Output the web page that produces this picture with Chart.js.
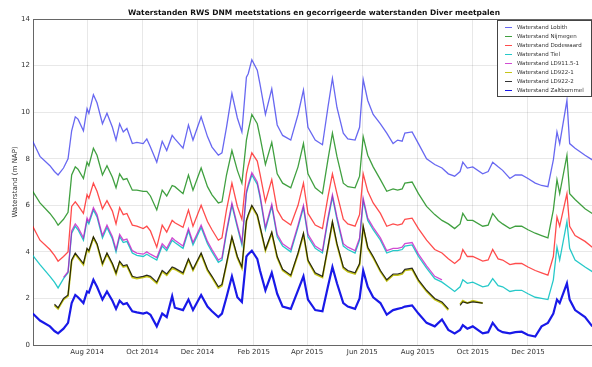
<!DOCTYPE html>
<html>
<head>
<meta charset="UTF-8">
<title>Waterstanden</title>
<script src="https://cdn.jsdelivr.net/npm/chart.js@4.4.1/dist/chart.umd.min.js"></script>
<style>
  html, body { margin: 0; padding: 0; background: #fff; overflow: hidden; }
  #wrap { width: 595px; height: 367px; }
</style>
</head>
<body>
<div id="wrap"><canvas id="myChart"></canvas></div>
<script>
// days since 1 June 2014
var days = [1,9,20,25,29,35,40,44,48,51,
  57,61,63,68,72,78,83,89,93,97,
  101,105,111,116,123,127,131,138,144,149,
  155,158,167,173,178,187,194,199,206,210,
  215,221,227,232,237,239,243,249,252,258,
  265,271,277,286,294,300,305,313,321,327,
  332,337,344,349,357,362,366,371,377,385,
  392,399,404,409,412,420,427,436,445,453,
  460,467,473,476,481,487,498,504,509,515,
  520,528,534,541,548,556,563,570,576,580,
  583,591,594,600,611,619];

var lobith = [8.75,8.1,7.7,7.45,7.3,7.6,8.0,9.2,9.8,9.7,
  9.2,10.15,9.95,10.75,10.4,9.5,9.95,9.35,8.8,9.5,
  9.15,9.3,8.65,8.7,8.65,8.85,8.5,7.85,8.75,8.35,
  9.0,8.85,8.45,9.45,8.8,9.8,8.95,8.5,8.15,8.25,
  9.35,10.8,9.75,9.15,11.5,11.65,12.25,11.8,11.2,9.9,
  11.0,9.45,9.0,8.8,9.9,10.95,9.35,8.8,8.6,10.2,
  11.45,10.2,9.1,8.85,8.8,9.35,11.4,10.5,9.9,9.5,
  9.1,8.65,8.8,8.75,9.1,9.15,8.65,8.0,7.75,7.6,
  7.35,7.25,7.45,7.85,7.6,7.65,7.35,7.45,7.85,7.65,
  7.5,7.15,7.3,7.3,7.15,6.95,6.85,6.8,7.95,9.15,
  8.65,10.5,8.65,8.45,8.15,7.95];

var nijmegen = [6.6,6.1,5.65,5.4,5.15,5.4,5.7,7.3,7.65,7.55,
  7.15,7.85,7.7,8.45,8.15,7.3,7.7,7.2,6.75,7.35,
  7.1,7.15,6.65,6.65,6.6,6.6,6.4,5.8,6.65,6.4,
  6.85,6.8,6.5,7.3,6.65,7.6,6.8,6.45,6.1,6.15,
  7.3,8.35,7.5,6.95,8.8,9.2,9.9,9.5,8.95,7.75,
  8.7,7.35,6.95,6.75,7.65,8.65,7.35,6.75,6.5,7.95,
  9.1,8.1,6.95,6.8,6.75,7.25,8.95,8.15,7.65,7.1,
  6.6,6.7,6.65,6.7,6.95,7.0,6.5,5.95,5.6,5.35,
  5.2,5.0,5.2,5.65,5.35,5.35,5.1,5.15,5.65,5.35,
  5.2,5.0,5.1,5.1,4.95,4.8,4.7,4.6,5.8,7.1,
  6.5,8.15,6.5,6.25,5.85,5.65];

var dodewaard = [5.1,4.5,4.1,3.85,3.6,3.8,4.0,5.95,6.15,6.0,
  5.65,6.45,6.3,6.95,6.6,5.85,6.2,5.75,5.2,5.9,
  5.6,5.65,5.15,5.1,5.0,5.1,4.9,4.2,5.15,4.85,
  5.35,5.25,5.05,5.8,5.1,6.0,5.3,4.95,4.5,4.6,
  5.8,6.95,5.95,5.4,7.35,7.7,8.25,7.9,7.35,6.15,
  7.1,5.8,5.4,5.15,6.0,6.95,5.65,5.15,5.0,6.35,
  7.35,6.5,5.4,5.2,5.1,5.6,7.35,6.6,6.1,5.65,
  5.1,5.2,5.15,5.2,5.4,5.45,5.0,4.5,4.1,3.95,
  3.7,3.5,3.7,4.1,3.8,3.8,3.6,3.65,4.1,3.7,
  3.65,3.45,3.5,3.5,3.35,3.2,3.1,3.0,3.8,5.5,
  5.1,6.5,5.1,4.7,4.45,4.2];

var tiel = [3.85,3.45,2.95,2.7,2.45,2.85,3.1,4.8,5.1,4.95,
  4.5,5.35,5.2,5.8,5.5,4.6,5.05,4.55,4.0,4.65,
  4.4,4.45,3.95,3.85,3.8,3.9,3.8,3.65,4.25,4.05,
  4.5,4.4,4.15,4.9,4.3,5.05,4.35,4.0,3.55,3.65,
  4.8,6.0,5.05,4.3,6.5,6.8,7.3,6.9,6.35,4.95,
  5.95,4.65,4.25,4.0,5.05,5.9,4.65,4.15,3.95,5.35,
  6.35,5.4,4.25,4.1,3.95,4.5,6.2,5.35,4.95,4.5,
  3.95,4.05,4.05,4.1,4.25,4.3,3.8,3.3,2.85,2.7,
  2.5,2.3,2.5,2.8,2.65,2.7,2.5,2.55,2.85,2.55,
  2.5,2.3,2.35,2.35,2.2,2.05,2.0,1.95,2.8,4.2,
  3.65,5.3,4.15,3.65,3.35,3.15];

var ld911 = [null,null,null,null,null,2.9,3.15,4.9,5.2,5.05,
  4.6,5.45,5.3,5.9,5.6,4.7,5.15,4.65,4.1,4.75,
  4.5,4.55,4.05,3.95,3.9,4.0,3.9,3.75,4.35,4.15,
  4.6,4.5,4.25,5.0,4.4,5.15,4.45,4.1,3.65,3.75,
  4.9,6.1,5.15,4.4,6.6,6.9,7.4,7.0,6.45,5.05,
  6.05,4.75,4.35,4.1,5.15,6.0,4.75,4.25,4.05,5.45,
  6.45,5.5,4.35,4.2,4.05,4.6,6.3,5.45,5.05,4.6,
  4.05,4.15,4.15,4.2,4.35,4.4,3.9,3.4,2.95,2.8,
  null,null,null,null,null,null,null,null,null,null,
  null,null,null,null,null,null,null,null,null,null,
  null,null,null,null,null,null];

var ld922a = [null,null,null,1.7,1.55,1.95,2.1,3.6,3.9,3.75,
  3.45,4.1,4.0,4.6,4.3,3.45,3.9,3.45,3.05,3.55,
  3.35,3.4,2.9,2.85,2.9,2.95,2.9,2.65,3.15,3.0,
  3.3,3.25,3.05,3.65,3.2,3.9,3.2,2.9,2.45,2.55,
  3.45,4.6,3.75,3.3,5.3,5.55,5.95,5.55,5.05,4.05,
  4.8,3.75,3.2,2.95,3.9,4.75,3.6,3.05,2.9,4.15,
  5.25,4.3,3.3,3.15,3.05,3.45,5.05,4.15,3.75,3.15,
  2.75,3.0,3.0,3.05,3.2,3.25,2.75,2.3,1.95,1.8,
  1.5,null,1.75,1.9,1.8,1.9,1.8,null,null,null,
  null,null,null,null,null,null,null,null,null,null,
  null,null,null,null,null,null];

var ld922b = [null,null,null,1.75,1.6,2.0,2.15,3.65,3.95,3.8,
  3.5,4.15,4.05,4.65,4.35,3.5,3.95,3.5,3.1,3.6,
  3.4,3.45,2.95,2.9,2.95,3.0,2.95,2.7,3.2,3.05,
  3.35,3.3,3.1,3.7,3.25,3.95,3.25,2.95,2.5,2.6,
  3.5,4.65,3.8,3.35,5.35,5.6,6.0,5.6,5.1,4.1,
  4.85,3.8,3.25,3.0,3.95,4.8,3.65,3.1,2.95,4.2,
  5.3,4.35,3.35,3.2,3.1,3.5,5.1,4.2,3.8,3.2,
  2.8,3.05,3.05,3.1,3.25,3.3,2.8,2.35,2.0,1.85,
  1.55,null,1.7,1.85,1.8,1.85,1.8,null,null,null,
  null,null,null,null,null,null,null,null,null,null,
  null,null,null,null,null,null];

var zaltbommel = [1.35,1.05,0.8,0.6,0.5,0.7,0.95,1.8,2.15,2.05,
  1.8,2.3,2.25,2.8,2.5,1.95,2.3,1.9,1.55,1.9,
  1.75,1.8,1.45,1.4,1.35,1.4,1.3,0.8,1.35,1.2,
  2.1,1.6,1.5,1.95,1.5,2.15,1.65,1.45,1.2,1.35,
  2.05,2.95,2.05,1.85,3.8,3.9,4.05,3.7,3.2,2.35,
  3.1,2.2,1.65,1.55,2.35,2.95,1.95,1.5,1.45,2.5,
  3.35,2.65,1.8,1.65,1.55,2.0,3.2,2.5,2.05,1.8,
  1.3,1.5,1.55,1.6,1.65,1.7,1.35,0.95,0.8,1.1,
  0.65,0.5,0.65,0.85,0.7,0.8,0.5,0.55,0.95,0.65,
  0.55,0.5,0.55,0.57,0.43,0.36,0.8,0.95,1.35,1.95,
  1.8,2.65,1.95,1.5,1.2,0.8];

var tickDays = [61, 122, 183, 245, 304, 365, 426, 487, 548];
var tickLabels = ['Aug 2014', 'Oct 2014', 'Dec 2014', 'Feb 2015', 'Apr 2015', 'Jun 2015', 'Aug 2015', 'Oct 2015', 'Dec 2015'];

var seriesNames = ['Waterstand Lobith', 'Waterstand Nijmegen', 'Waterstand Dodewaard', 'Waterstand Tiel',
  'Waterstand LD911.5-1', 'Waterstand LD922-1', 'Waterstand LD922-2', 'Waterstand Zaltbommel'];
var seriesValues = [lobith, nijmegen, dodewaard, tiel, ld911, ld922a, ld922b, zaltbommel];
var seriesColors = ['rgba(40,40,235,0.7)', 'rgba(0,128,0,0.75)', 'rgba(255,0,0,0.7)', 'rgba(0,191,191,0.85)',
  'rgba(191,0,191,0.7)', 'rgba(191,191,0,0.9)', 'rgba(0,0,0,0.8)', 'rgba(0,0,230,0.9)'];
var seriesWidths = [1.3, 1.3, 1.3, 1.3, 1.3, 1.8, 1.2, 2.2];

function toPoints(vals) {
  return days.map(function (d, i) { return { x: d, y: vals[i] }; });
}

var datasets = seriesValues.map(function (vals, i) {
  return {
    label: seriesNames[i],
    data: toPoints(vals),
    borderColor: seriesColors[i],
    backgroundColor: seriesColors[i],
    borderWidth: seriesWidths[i],
    pointRadius: 0,
    fill: false,
    spanGaps: false,
    order: -i
  };
});

var font = 'DejaVu Sans';

// top/right frame and the legend box
var frameAndLegend = {
  id: 'frameAndLegend',
  afterDraw: function (chart) {
    var ctx = chart.ctx, a = chart.chartArea;
    ctx.save();
    ctx.strokeStyle = '#666';
    ctx.lineWidth = 1;
    ctx.beginPath();
    ctx.moveTo(a.left, Math.round(a.top) + 0.5);
    ctx.lineTo(a.right, Math.round(a.top) + 0.5);
    ctx.lineTo(a.right, a.bottom);
    ctx.stroke();

    var x0 = Math.round(a.right) - 98, y0 = Math.round(a.top) + 1, w = 94, h = 76;
    ctx.fillStyle = '#fff';
    ctx.fillRect(x0, y0, w, h);
    ctx.strokeStyle = '#444';
    ctx.strokeRect(x0 + 0.5, y0 + 0.5, w, h);
    ctx.font = '5.5px "' + font + '"';
    ctx.textBaseline = 'middle';
    chart.data.datasets.forEach(function (ds, i) {
      var y = y0 + 7 + i * 9;
      ctx.strokeStyle = ds.borderColor;
      ctx.lineWidth = 1;
      ctx.beginPath();
      ctx.moveTo(x0 + 8, y + 0.5);
      ctx.lineTo(x0 + 15, y + 0.5);
      ctx.stroke();
      ctx.fillStyle = '#333';
      ctx.fillText(ds.label, x0 + 20, y + 0.5);
    });
    ctx.restore();
  }
};

new Chart(document.getElementById('myChart'), {
  type: 'line',
  data: { datasets: datasets },
  plugins: [frameAndLegend],
  options: {
    responsive: true,
    maintainAspectRatio: false,
    animation: false,
    devicePixelRatio: 1,
    layout: { padding: 0 },
    elements: { line: { tension: 0 } },
    plugins: {
      legend: { display: false },
      tooltip: { enabled: false },
      title: {
        display: true,
        fullSize: false,
        text: 'Waterstanden RWS DNM meetstations en gecorrigeerde waterstanden Diver meetpalen',
        color: '#111',
        font: { family: font, size: 7.5, weight: 'bold' },
        padding: { top: 8.5, bottom: 1.5 }
      }
    },
    scales: {
      x: {
        type: 'linear',
        min: 1.3,
        max: 622,
        afterBuildTicks: function (scale) {
          scale.ticks = tickDays.map(function (v) { return { value: v }; });
        },
        afterFit: function (scale) { scale.height = 22; },
        ticks: {
          autoSkip: false,
          maxRotation: 0,
          padding: 3,
          color: '#333',
          font: { family: font, size: 7 },
          callback: function (value, index) { return tickLabels[index]; }
        },
        grid: { color: 'rgba(0,0,0,0.09)', drawTicks: false },
        border: { color: '#666', width: 1 }
      },
      y: {
        min: 0,
        max: 14,
        afterFit: function (scale) { scale.width = 33; },
        ticks: {
          stepSize: 2,
          padding: 3,
          color: '#333',
          font: { family: font, size: 7 }
        },
        grid: { color: 'rgba(0,0,0,0.09)', drawTicks: false },
        border: { color: '#666', width: 1 },
        title: {
          display: true,
          text: 'Waterstand (m NAP)',
          color: '#333',
          font: { family: font, size: 7 },
          padding: { top: 11, bottom: 0 }
        }
      }
    }
  }
});
</script>
</body>
</html>
